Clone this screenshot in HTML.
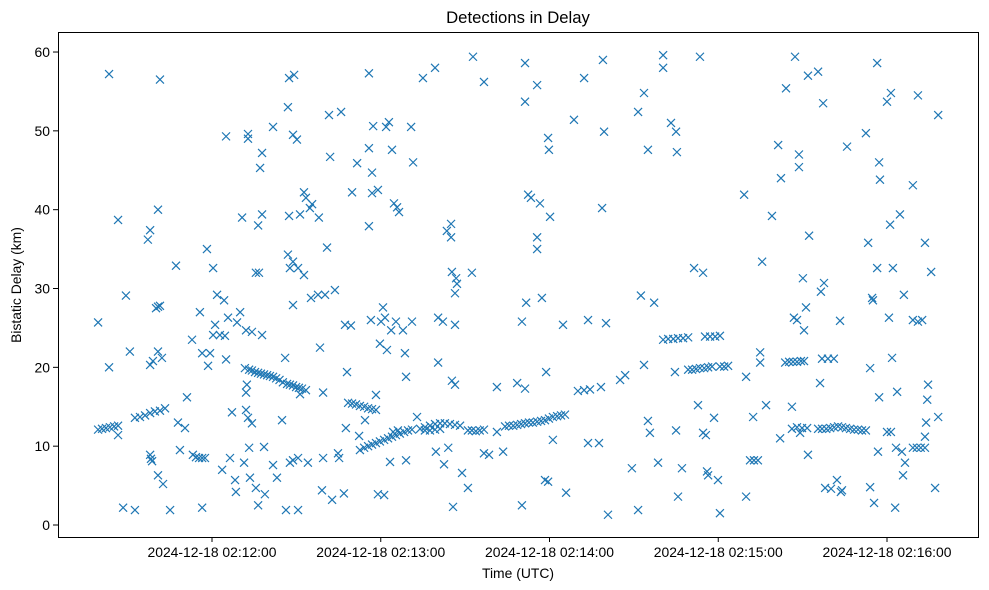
<!DOCTYPE html>
<html><head><meta charset="utf-8">
<style>
html,body{margin:0;padding:0;background:#fff;}
svg{display:block;font-family:"Liberation Sans","DejaVu Sans",sans-serif;}
</style></head>
<body>
<svg id="chart" width="989" height="590" viewBox="0 0 989 590" xmlns="http://www.w3.org/2000/svg">
<rect x="0" y="0" width="989" height="590" fill="#fff"/>
<text x="518" y="23" text-anchor="middle" font-size="16.7" fill="#000">Detections in Delay</text>
<text x="518" y="578" text-anchor="middle" font-size="13.9" fill="#000">Time (UTC)</text>
<text transform="translate(21,285) rotate(-90)" text-anchor="middle" font-size="13.9" fill="#000">Bistatic Delay (km)</text>
<g id="xticks"></g>
<g id="yticks"></g>
<g id="points"></g>
<rect x="58.5" y="32.5" width="920" height="505" fill="none" stroke="#000" stroke-width="1"/>
</svg>
<script>
// time: seconds after 02:11:00 UTC, delay: km
const xTickValues = [60, 120, 180, 240, 300];
const xTickLabels = ["2024-12-18 02:12:00","2024-12-18 02:13:00","2024-12-18 02:14:00","2024-12-18 02:15:00","2024-12-18 02:16:00"];
const yTickValues = [0, 10, 20, 30, 40, 50, 60];
const bandA = [[19.5,12.1],[20.9,12.2],[22.3,12.3],[23.7,12.4],[25.2,12.5],[26.6,12.6]];
const group1 = [[19.5,25.7],[23.4,57.2],[23.4,20],[26.6,38.7],[26.6,11.4],[28.4,2.2],[29.4,29.1],[30.8,22],[32.6,1.9]];
const band13 = [[32.6,13.6],[34.4,13.7],[36.2,13.9],[38.0,14.2],[39.7,14.4],[41.5,14.5]];
const group2 = [[37.2,36.2],[38.0,37.4],[38.0,20.3],[39.0,20.8],[38.0,8.9],[38.3,8.4],[38.7,8.1],[40.1,27.5],[40.8,27.7],[41.5,27.8],[40.8,40],[41.5,56.5],[40.8,22],[42.2,21.2],[40.8,6.3],[42.6,5.2],[43.3,14.8],[45.1,1.9],[47.2,32.9],[47.9,13],[48.6,9.5],[50.4,12.3],[51.1,16.2],[52.9,23.5]];
const band8 = [[53.2,8.9],[54.3,8.6],[55.4,8.5],[56.5,8.5],[57.5,8.5]];
const group3 = [[55.7,27],[56.5,21.8],[56.5,2.2],[58.2,35],[58.6,20.2],[59.3,21.8],[60.4,32.6],[61.1,25.4],[61.8,29.2],[62.8,24.1],[63.6,7],[64.3,28.5],[64.6,24.0],[60.4,24.1],[65.0,49.3],[65.0,21],[65.7,26.3],[66.4,8.5],[67.1,14.3],[68.2,5.7],[68.5,4.2],[68.9,25.7],[70.0,27],[70.7,39],[71.4,7.9],[72.1,24.7]];
const bandB = [[71.7,19.9],[73.2,19.7],[74.2,19.6],[75.3,19.4],[76.4,19.3],[77.4,19.2],[78.5,19.1],[79.6,19.0],[80.6,18.9],[81.7,18.8],[82.8,18.6],[84.0,18.4],[85.2,18.1],[86.7,17.9],[87.7,17.8],[88.8,17.7],[89.9,17.5],[90.9,17.4],[92.0,17.3]];
const group4 = [[72.4,17.8],[72.1,16.8],[72.1,14.6],[72.8,13.6],[73.2,9.8],[73.5,6],[74.2,12.9],[72.8,49.6],[72.8,49],[74.2,24.5],[75.6,32],[76.7,32],[76.4,38],[77.1,45.3],[77.8,47.2],[77.8,39.4],[77.8,24.1],[75.6,4.7],[76.4,2.5],[78.5,9.9],[78.8,3.9],[81.7,50.5],[81.7,7.6],[83.1,6],[84.9,13.3],[86.0,21.2],[86.3,1.9],[87.0,53],[87.0,34.3],[87.4,39.2],[87.7,32.6],[87.4,56.7],[89.2,57.1],[87.7,7.9],[88.8,8.2],[88.8,49.5],[90.2,48.9],[88.8,27.9],[88.8,33.4],[90.6,32.6],[90.6,1.9],[91.3,16.6],[91.3,39.4],[90.6,8.5],[92.7,42.2],[93.4,41.5],[92.7,31.7],[93.4,17.1],[94.1,7.9],[94.8,40.2],[95.6,40.7],[95.2,28.8],[97.7,29.2],[98.0,39],[98.4,22.5],[99.1,4.4],[99.5,16.8],[99.5,8.5],[100.2,29.2],[100.9,35.2],[101.6,52],[102.0,46.7],[102.7,3.2],[103.7,29.8],[104.8,9.1],[105.2,8.5],[105.9,52.4],[106.9,4],[107.3,25.4],[109.4,25.3],[108.0,19.4],[109.8,42.2],[111.6,45.9],[107.6,12.3],[112.3,11.3],[114.4,13.3]];
const bandC = [[108.4,15.5],[109.8,15.4],[111.2,15.3],[112.6,15.1],[114.1,15.0],[115.5,14.8],[116.9,14.7],[118.3,14.6]];
const bandD = [[112.6,9.5],[114.1,9.8],[115.5,10],[116.9,10.2],[118.3,10.4],[119.7,10.6],[121.2,10.8],[122.6,11.0],[124.0,11.2],[125.4,11.4],[126.8,11.6],[128.3,11.8],[129.7,12.0],[131.1,12.1]];
const group5 = [[115.8,57.3],[115.8,47.8],[115.8,37.9],[116.5,26],[116.9,44.7],[117.3,50.6],[116.9,42.1],[118.3,16.5],[119.0,42.5],[119.0,3.9],[121.2,3.8],[119.7,23],[120.1,25.8],[120.8,27.6],[121.5,26.3],[122.2,22.2],[121.9,50.5],[122.9,51.1],[123.3,8],[123.7,24.7],[124.0,47.6],[124.7,40.8],[125.8,40.3],[126.5,39.7],[124.4,11.8],[126.1,12.0],[125.4,25.8],[127.9,24.7],[128.6,21.8],[129.0,8.2],[130.8,50.5],[131.1,25.8],[131.5,46],[129.0,18.8],[132.9,13.7],[135.0,56.7],[139.3,58],[140.4,26.3],[142.1,25.8],[140.4,20.6],[143.5,37.3],[145.0,36.5],[145.0,38.2],[145.3,32.1],[146.8,31.3],[146.4,25.4],[146.4,17.8],[145.3,18.3],[146.4,29.4],[147.1,30.6],[145.7,2.3],[148.9,6.6],[151.0,4.7],[152.4,32],[152.8,59.4],[156.7,56.2],[161.3,17.5],[156.7,9.1],[158.5,8.9],[161.3,11.8],[163.5,9.3],[139.6,9.3],[142.5,7.7],[144.0,9.8]];
const bandE = [[134.0,12.2],[135.7,12.4],[137.5,12.6],[139.3,12.8],[141.1,12.9],[142.8,12.9],[144.6,12.8],[146.4,12.7],[148.2,12.6],[135.7,12.0],[137.5,12.0],[139.3,12.1],[141.1,12.2]];
const bandF = [[151.0,12.0],[152.4,12.0],[153.8,11.9],[155.2,12.0],[156.7,12.1]];
const bandG = [[164.2,12.5],[165.6,12.6],[167.1,12.6],[168.5,12.7],[169.9,12.8],[171.3,12.9],[172.7,13],[174.1,13],[175.6,13.1],[177.0,13.2],[178.4,13.3],[179.8,13.5],[181.2,13.7],[182.7,13.8],[184.1,13.9],[185.5,14]];
const group6 = [[171.3,58.6],[171.3,53.7],[170.2,25.8],[171.7,28.2],[172.4,41.9],[173.4,41.5],[168.5,18],[171.3,17.3],[170.2,2.5],[175.6,55.8],[175.6,36.5],[175.6,35],[177.3,28.8],[176.6,40.8],[179.5,49.1],[179.8,47.6],[180.2,39.1],[178.8,19.4],[178.4,5.7],[179.5,5.5],[181.2,10.8],[184.8,25.4],[185.9,4.1],[188.7,51.4],[192.3,56.7],[193.7,26],[193.7,10.4],[197.6,10.4],[198.3,17.5],[198.7,40.2],[199.0,59],[199.4,49.9],[200.1,25.6],[200.8,1.3],[205.1,18.4],[206.9,19],[209.3,7.2],[211.5,52.4],[213.6,54.8],[211.5,1.9],[212.5,29.1],[213.6,20.3],[215.0,47.6],[215.0,13.2],[215.7,11.7],[217.2,28.2],[218.6,7.9],[220.4,59.6],[220.4,58],[223.2,51],[225.0,49.9],[225.3,47.3],[224.6,19.4],[225.0,12],[225.7,3.6],[227.1,7.2],[231.4,32.6],[234.6,32],[232.8,15.2],[233.5,59.4],[234.6,11.7],[235.6,11.4],[236.0,6.8],[236.4,6.3],[238.5,13.6],[240.6,1.5],[239.9,5.7]];
const bandH = [[190.1,17],[192.3,17.1],[194.4,17.2]];
const bandI = [[220.4,23.5],[222.2,23.6],[224.0,23.6],[225.7,23.7],[227.5,23.7],[229.3,23.8]];
const bandJ = [[229.3,19.7],[230.7,19.7],[232.1,19.8],[233.5,19.9],[235.0,19.9],[236.4,20],[237.8,20.1],[235.3,23.9],[237.1,23.9],[238.9,23.9],[240.6,24],[240.6,20.1],[242.1,20.1],[243.5,20.2]];
const band8b = [[251.3,8.2],[252.7,8.2],[254.1,8.2]];
const group7 = [[249.2,41.9],[249.9,18.8],[249.9,3.6],[252.4,13.7],[254.9,21.9],[254.9,20.6],[255.6,33.4],[257.0,15.2],[259.1,39.2],[261.3,48.2],[262.0,11],[262.3,44],[264.1,55.4],[266.2,15],[267.3,59.4],[266.9,26.3],[268.0,26],[268.7,47],[268.7,45.4],[269.1,11.7],[270.1,31.3],[270.5,24.7],[271.2,27.6],[271.9,57],[272.3,36.7],[271.9,8.9],[275.5,57.5],[276.5,29.6],[277.3,53.5],[276.2,18],[277.6,30.7],[278.0,4.7],[280.1,4.6],[282.2,5.7],[283.6,4.2],[283.3,25.9],[284.0,4.4],[285.8,48],[292.5,49.7],[293.3,35.8],[294.0,4.8],[294.0,19.9],[294.7,28.8],[295.0,28.5],[295.4,2.8],[296.5,58.6],[296.5,32.6],[297.2,46],[297.5,43.8],[297.2,16.2],[296.8,9.3],[300.0,53.7],[301.4,54.8],[300.7,26.3],[301.1,38.1],[301.8,21.2],[302.1,32.6],[302.9,2.2],[303.6,16.9],[303.2,9.8],[304.6,39.4],[305.3,9.3],[306.0,29.2],[306.4,7.9],[305.7,6.3],[309.2,43.1],[311.0,54.5],[309.2,26],[311.0,25.8],[312.5,26],[313.5,35.8],[313.5,11.2],[313.9,13],[314.3,15.9],[314.6,17.8],[315.7,32.1],[317.1,4.7],[318.2,52],[318.2,13.7]];
const bandK = [[263.8,20.6],[265.2,20.7],[266.6,20.7],[268.0,20.7],[269.4,20.8],[270.5,20.8],[266.2,12.2],[268.0,12.4],[269.8,12.3],[271.6,12.3]];
const bandL = [[276.9,21.1],[279.0,21.1],[281.1,21.1]];
const bandM = [[275.5,12.2],[276.9,12.2],[278.4,12.2],[279.8,12.3],[281.2,12.4],[282.6,12.5],[284.0,12.4],[285.4,12.3],[286.9,12.2],[288.3,12.1],[289.7,12.1],[291.1,12.0],[292.5,12.0]];
const bandN = [[300.0,11.8],[301.4,11.8],[309.2,9.8],[310.6,9.8],[312.0,9.8],[313.5,9.8]];

const allGroups = [bandA,group1,band13,group2,band8,group3,bandB,group4,bandC,bandD,group5,bandE,bandF,bandG,group6,bandH,bandI,bandJ,band8b,group7,bandK,bandL,bandM,bandN];

const NS = "http://www.w3.org/2000/svg";
const X0 = 58, X1 = 978, Y0 = 32, Y1 = 537;
function xScale(t){ return 212 + (t - 60) * 2.8125; }
function yScale(d){ return 525 - d * 7.883; }

const xt = document.getElementById('xticks');
xTickValues.forEach((v,i)=>{
  const x = xScale(v);
  const l = document.createElementNS(NS,'line');
  l.setAttribute('x1',x); l.setAttribute('x2',x); l.setAttribute('y1',Y1); l.setAttribute('y2',Y1+5);
  l.setAttribute('stroke','#000');
  
  
  xt.appendChild(l);
  const tx = document.createElementNS(NS,'text');
  tx.setAttribute('x',x); tx.setAttribute('y',Y1+20); tx.setAttribute('text-anchor','middle');
  tx.setAttribute('font-size','13.9');
  tx.textContent = xTickLabels[i];
  
  
  xt.appendChild(tx);
});
const yt = document.getElementById('yticks');
yTickValues.forEach(v=>{
  const y = yScale(v);
  const l = document.createElementNS(NS,'line');
  l.setAttribute('x1',X0-5); l.setAttribute('x2',X0); l.setAttribute('y1',y); l.setAttribute('y2',y);
  l.setAttribute('stroke','#000');
  
  
  yt.appendChild(l);
  const tx = document.createElementNS(NS,'text');
  tx.setAttribute('x',X0-8); tx.setAttribute('y',y+5); tx.setAttribute('text-anchor','end');
  tx.setAttribute('font-size','13.9');
  tx.textContent = String(v);
  
  
  yt.appendChild(tx);
});
const pg = document.getElementById('points');
const r = 4;
allGroups.forEach(g=>g.forEach(p=>{
  const x = xScale(p[0]), y = yScale(p[1]);
  const path = document.createElementNS(NS,'path');
  path.setAttribute('d',`M${x-r},${y-r}L${x+r},${y+r}M${x-r},${y+r}L${x+r},${y-r}`);
  path.setAttribute('stroke','#1f77b4');
  path.setAttribute('stroke-width','1.2');
  path.setAttribute('fill','none');
  
  
  pg.appendChild(path);
}));
</script>
</body></html>
